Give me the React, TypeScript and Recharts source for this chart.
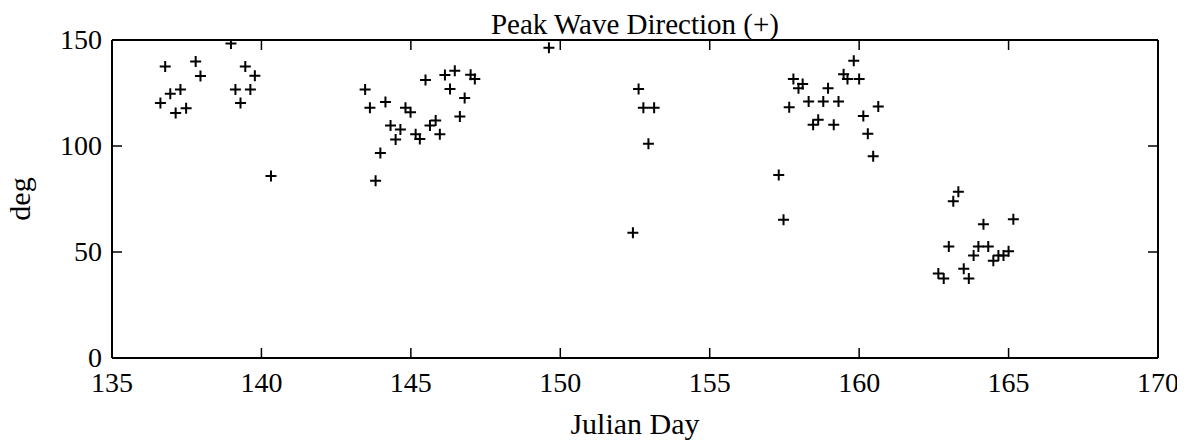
import { ScatterChart, Scatter, XAxis, YAxis } from "recharts";

// Peak wave direction readings, grouped by deployment period
const daysA = [136.78, 136.95, 137.29, 136.62, 137.13, 137.48, 137.8, 137.96, 138.98, 139.13, 139.3, 139.46, 139.63, 139.78, 140.32];
const degA = [137.5, 124.6, 126.6, 120.3, 115.6, 117.8, 139.8, 133.0, 148.3, 126.6, 120.3, 137.5, 126.6, 133.1, 85.9];

const daysB = [143.47, 143.63, 144.15, 143.98, 143.82, 144.32, 144.65, 144.49, 144.82, 144.99, 145.16, 145.3, 145.49, 145.64, 145.83, 145.97, 146.14, 146.47, 146.31, 146.8, 146.64, 147.0, 147.14, 149.62];
const degB = [126.7, 118.0, 120.8, 96.7, 83.6, 109.7, 107.8, 103.1, 118.0, 115.9, 105.5, 103.3, 131.1, 109.7, 112.0, 105.5, 133.5, 135.5, 126.9, 122.7, 113.9, 133.6, 131.6, 146.4];

const daysC = [152.43, 152.62, 152.78, 153.14, 152.95];
const degC = [59.1, 126.9, 118.0, 118.0, 101.1];

const daysD = [159.82, 159.48, 159.61, 160.0, 157.8, 158.11, 157.97, 158.96, 157.66, 158.31, 158.8, 159.31, 158.63, 158.46, 159.15, 160.14, 160.64, 160.29, 160.47, 157.31, 157.47];
const degD = [140.2, 133.9, 131.6, 131.6, 131.6, 129.2, 127.2, 127.2, 118.3, 121.0, 121.0, 121.0, 112.4, 110.0, 110.0, 114.1, 118.6, 105.8, 95.2, 86.3, 65.2];

const daysE = [163.32, 163.15, 165.16, 164.16, 163.0, 163.99, 164.32, 163.83, 164.66, 164.83, 165.0, 164.49, 162.65, 162.83, 163.5, 163.67];
const degE = [78.4, 73.9, 65.5, 63.1, 52.6, 52.6, 52.6, 48.3, 48.3, 48.3, 50.3, 45.9, 39.8, 37.5, 42.1, 37.5];

const xTicks = [135, 140, 145, 150, 155, 160, 165, 170];
const yTicks = [0, 50, 100, 150];

const FONT = '"Liberation Serif", "Times New Roman", serif';
const FS = 28;
const LABEL_FS = 30;

const allDays = [...daysA, ...daysB, ...daysC, ...daysD, ...daysE];
const allDeg = [...degA, ...degB, ...degC, ...degD, ...degE];
const points = allDays.map((d, i) => ({ day: d, deg: allDeg[i] }));

const PlusMark = (props: any) => {
  const { cx, cy } = props;
  if (cx == null || cy == null) return null;
  return (
    <path
      d={`M${cx - 5.5},${cy}H${cx + 5.5}M${cx},${cy - 5.5}V${cy + 5.5}`}
      stroke="#000"
      strokeWidth={2}
      fill="none"
    />
  );
};

// ticks point inward, like the original plot box
const BottomTick = (props: any) => {
  const { x, y, payload } = props;
  return (
    <g>
      <line x1={x} y1={y} x2={x} y2={y - 10} stroke="#000" strokeWidth={1.5} />
      <text x={x} y={y + 34} textAnchor="middle" fontFamily={FONT} fontSize={FS} fill="#000">
        {payload.value}
      </text>
    </g>
  );
};

const TopTick = (props: any) => {
  const { x, y } = props;
  return <line x1={x} y1={y} x2={x} y2={y + 10} stroke="#000" strokeWidth={1.5} />;
};

const LeftTick = (props: any) => {
  const { x, y, payload } = props;
  return (
    <g>
      <line x1={x} y1={y} x2={x + 10} y2={y} stroke="#000" strokeWidth={1.5} />
      <text x={x - 10} y={y + 9} textAnchor="end" fontFamily={FONT} fontSize={FS} fill="#000">
        {payload.value}
      </text>
    </g>
  );
};

const RightTick = (props: any) => {
  const { x, y } = props;
  return <line x1={x} y1={y} x2={x - 10} y2={y} stroke="#000" strokeWidth={1.5} />;
};

export default function App() {
  const axisLine = { stroke: "#000", strokeWidth: 2 };
  return (
    <div style={{ width: 1177, height: 438, background: "#fff" }}>
      <ScatterChart width={1177} height={438} margin={{ top: 31, right: 26, bottom: 0, left: 0 }}>
        <XAxis
          xAxisId="bottom"
          type="number"
          dataKey="day"
          domain={[135, 170]}
          ticks={xTicks}
          allowDataOverflow
          height={88}
          axisLine={axisLine}
          tickLine={false}
          tickSize={0}
          tickMargin={0}
          tick={<BottomTick />}
          label={{
            value: "Julian Day",
            position: "insideBottom",
            offset: 12,
            style: { fontFamily: FONT, fontSize: LABEL_FS, fill: "#000" },
          }}
        />
        <XAxis
          xAxisId="top"
          orientation="top"
          type="number"
          dataKey="day"
          domain={[135, 170]}
          ticks={xTicks}
          allowDataOverflow
          height={1}
          axisLine={axisLine}
          tickLine={false}
          tickSize={0}
          tickMargin={0}
          tick={<TopTick />}
          label={{
            value: "Peak Wave Direction (+)",
            position: "top",
            offset: 5,
            style: { fontFamily: FONT, fontSize: 29, fill: "#000" },
          }}
        />
        <YAxis
          yAxisId="left"
          type="number"
          dataKey="deg"
          domain={[0, 150]}
          ticks={yTicks}
          allowDataOverflow
          width={104}
          axisLine={axisLine}
          tickLine={false}
          tickSize={0}
          tickMargin={0}
          tick={<LeftTick />}
          label={{
            value: "deg",
            angle: -90,
            position: "insideLeft",
            offset: 11,
            style: { fontFamily: FONT, fontSize: LABEL_FS, fill: "#000", textAnchor: "middle" },
          }}
        />
        <YAxis
          yAxisId="right"
          orientation="right"
          type="number"
          dataKey="deg"
          domain={[0, 150]}
          ticks={yTicks}
          allowDataOverflow
          width={1}
          axisLine={axisLine}
          tickLine={false}
          tickSize={0}
          tickMargin={0}
          tick={<RightTick />}
        />
        <Scatter
          data={points}
          xAxisId="bottom"
          yAxisId="left"
          shape={<PlusMark />}
          isAnimationActive={false}
        />
      </ScatterChart>
    </div>
  );
}
